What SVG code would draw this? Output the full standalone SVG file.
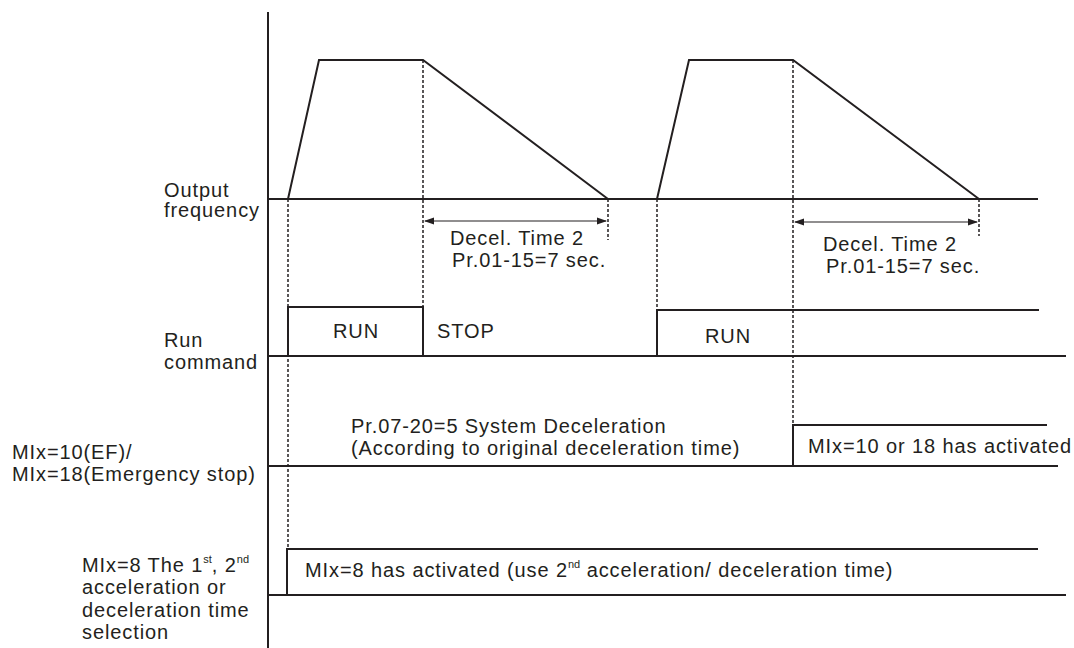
<svg xmlns="http://www.w3.org/2000/svg" width="1074" height="648" viewBox="0 0 1074 648">
<defs>
<style>
.t{font-family:"Liberation Sans",Arial,Helvetica,sans-serif;font-size:20px;letter-spacing:0.9px;fill:#231f20}
.s{font-size:11px;letter-spacing:0}
.ln{fill:none;stroke:#231f20;stroke-width:2;stroke-linejoin:miter}
.ds{fill:none;stroke:#231f20;stroke-width:1.5;stroke-dasharray:3 2}
.ar{fill:none;stroke:#231f20;stroke-width:1.2}
</style>
<marker id="ah" viewBox="0 0 10 10" refX="9" refY="5" markerWidth="10" markerHeight="10" markerUnits="userSpaceOnUse" orient="auto-start-reverse">
<path d="M0,1.5 L10,5 L0,8.5 Z" fill="#231f20"/>
</marker>
</defs>
<rect width="1074" height="648" fill="#ffffff"/>

<g id="axis">
<line class="ln" x1="268" y1="12" x2="268" y2="648"/>
</g>

<g id="output-frequency">
<text class="t" x="164" y="197">Output</text>
<text class="t" x="164" y="217">frequency</text>
<line class="ln" x1="268" y1="199" x2="1038" y2="199"/>
<polyline class="ln" points="288,199 319,60 423,60 608,199"/>
<polyline class="ln" points="657,199 689,60 793,60 979,199"/>
</g>

<g id="run-command">
<text class="t" x="164" y="347">Run</text>
<text class="t" x="164" y="369">command</text>
<line class="ln" x1="268" y1="356" x2="1066" y2="356"/>
<polyline class="ln" points="288,356 288,307 423,307 423,356"/>
<polyline class="ln" points="657,356 657,310 1039,310"/>
<text class="t" x="333" y="338">RUN</text>
<text class="t" x="437" y="338">STOP</text>
<text class="t" x="705" y="343">RUN</text>
</g>

<g id="emergency-stop">
<text class="t" x="12" y="459">MIx=10(EF)/</text>
<text class="t" x="12" y="481">MIx=18(Emergency stop)</text>
<line class="ln" x1="268" y1="466" x2="1058" y2="466"/>
<polyline class="ln" points="793,466 793,425 1047,425"/>
<text class="t" x="351" y="433">Pr.07-20=5 System Deceleration</text>
<text class="t" x="351" y="455">(According to original deceleration time)</text>
<text class="t" x="808" y="453">MIx=10 or 18 has activated</text>
</g>

<g id="accel-select">
<text class="t" x="82" y="572">MIx=8 The 1<tspan class="s" dy="-9">st</tspan><tspan dy="9">, 2</tspan><tspan class="s" dy="-9">nd</tspan></text>
<text class="t" x="82" y="594">acceleration or</text>
<text class="t" x="82" y="617">deceleration time</text>
<text class="t" x="82" y="639">selection</text>
<line class="ln" x1="268" y1="595" x2="1066" y2="595"/>
<polyline class="ln" points="287,595 287,549 1038,549"/>
<text class="t" x="305" y="577">MIx=8 has activated (use 2<tspan class="s" dy="-9">nd</tspan><tspan dy="9"> acceleration/ deceleration time)</tspan></text>
</g>

<g id="decel-time-1">
<text class="t" x="450" y="245">Decel. Time 2</text>
<text class="t" x="452" y="267">Pr.01-15=7 sec.</text>
</g>
<g id="decel-time-2">
<text class="t" x="823" y="251">Decel. Time 2</text>
<text class="t" x="826" y="273">Pr.01-15=7 sec.</text>
</g>

<g id="connectors">
<line class="ds" x1="288" y1="199" x2="288" y2="549"/>
<line class="ds" x1="423" y1="60" x2="423" y2="307"/>
<line class="ds" x1="608" y1="199" x2="608" y2="240"/>
<line class="ds" x1="657" y1="199" x2="657" y2="310"/>
<line class="ds" x1="793" y1="60" x2="793" y2="425"/>
<line class="ds" x1="979" y1="199" x2="979" y2="236"/>
<line class="ar" x1="425" y1="221" x2="606" y2="221" marker-start="url(#ah)" marker-end="url(#ah)"/>
<line class="ar" x1="795" y1="222" x2="977" y2="222" marker-start="url(#ah)" marker-end="url(#ah)"/>
</g>
</svg>
